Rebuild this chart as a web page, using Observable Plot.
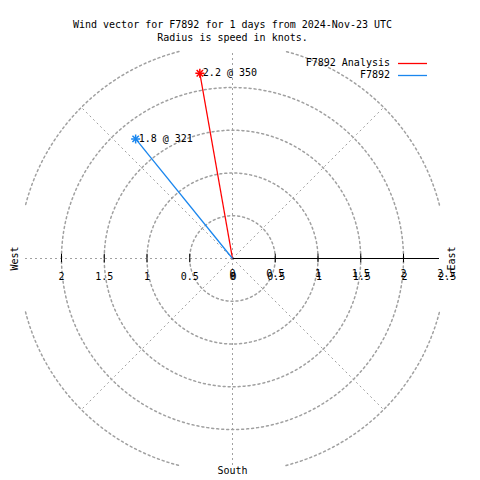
<!DOCTYPE html>
<html><head><meta charset="utf-8">
<script src="https://cdn.jsdelivr.net/npm/d3@7"></script>
<script src="https://cdn.jsdelivr.net/npm/@observablehq/plot@0.6"></script>
<style>
body{margin:0;background:#fff;}
#wrap{position:relative;width:480px;height:480px;font-family:"DejaVu Sans Mono",monospace;font-size:10px;color:#000;}
#wrap svg{position:absolute;left:0;top:0;}
</style></head><body><div id="wrap"></div>
<script>
// ---- data ----
const titleLines = ["Wind vector for F7892 for 1 days from 2024-Nov-23 UTC", "Radius is speed in knots."];
const seriesNames = ["F7892 Analysis", "F7892"];
const seriesColors = ["#ff0000", "#1a86ee"];
const speeds = [2.2, 1.8];
const directions = [350, 321];
const ringRadii = [0.5, 1, 1.5, 2, 2.5];
const westTicks = [0, 0.5, 1, 1.5, 2];
const eastTicks = [0, 0.5, 1, 1.5, 2, 2.5];
const compassNames = ["West", "East", "South"];

// ---- layout ----
const W = 480, H = 480, cx = 232, cy = 258, k = 85.5;
const L = 207 / k; // clip half-size of grid in knots
const grid = "#a0a0a0", dash = "2,3";

const vectors = speeds.map((s, i) => ({
  name: seriesNames[i], color: seriesColors[i], s, d: directions[i],
  x: s * Math.sin(directions[i] * Math.PI / 180),
  y: s * Math.cos(directions[i] * Math.PI / 180),
  label: `${s} @ ${directions[i]}`
}));

const ringPts = [];
for (const r of ringRadii) {
  for (let a = 0; a <= 360; a += 0.5) {
    const x = r * Math.cos(a * Math.PI / 180), y = r * Math.sin(a * Math.PI / 180);
    const inside = Math.abs(x) <= L && Math.abs(y) <= L;
    ringPts.push({r, x, y: inside ? y : NaN});
  }
}
const diag = [45, 135, 225, 315].map(a => ({x: 2.5 * Math.cos(a * Math.PI / 180), y: 2.5 * Math.sin(a * Math.PI / 180)}));
const tickMarks = [...westTicks.filter(v => v > 0).map(v => -v), ...eastTicks.filter(v => v > 0 && v < 2.5)];
const fmt = v => String(v);

const plot = Plot.plot({
  width: W, height: H, margin: 0,
  x: {domain: [-cx / k, (W - cx) / k], axis: null},
  y: {domain: [-(H - cy) / k, cy / k], axis: null},
  style: {fontFamily: '"DejaVu Sans Mono", monospace', fontSize: "10px", background: "white"},
  marks: [
    Plot.line(ringPts, {x: "x", y: "y", z: "r", stroke: grid, strokeDasharray: dash}),
    Plot.link(diag, {x1: 0, y1: 0, x2: "x", y2: "y", stroke: grid, strokeDasharray: dash}),
    Plot.ruleX([0], {y1: -L, y2: L, stroke: grid, strokeDasharray: dash}),
    Plot.ruleY([0], {x1: -L, x2: 0, stroke: grid, strokeDasharray: dash}),
    Plot.ruleY([0], {x1: 0, x2: L, stroke: "black"}),
    Plot.ruleX(tickMarks, {y1: -0.05, y2: 0.05, stroke: "black"}),
    Plot.text(westTicks, {x: d => -d, y: 0, text: fmt, dy: 18, fill: "black"}),
    Plot.text(eastTicks, {x: d => d, y: 0, text: fmt, dy: 15, fill: "black"}),
    Plot.text(eastTicks, {x: d => d, y: 0, text: fmt, dy: 18, dx: 1, fill: "black"}),
    Plot.text([compassNames[0]], {x: -218 / k, y: 0, text: d => d, rotate: -90, fill: "black"}),
    Plot.text([compassNames[1]], {x: 219 / k, y: 0, text: d => d, rotate: -90, fill: "black"}),
    Plot.text([compassNames[2]], {x: 0, y: -212 / k, text: d => d, fill: "black"}),
    Plot.link(vectors, {x1: 0, y1: 0, x2: "x", y2: "y", stroke: "color", strokeWidth: 1.3}),
    Plot.dot(vectors, {x: "x", y: "y", symbol: "plus", r: 3, stroke: "color"}),
    Plot.dot(vectors, {x: "x", y: "y", symbol: "times", r: 3, stroke: "color"}),
    Plot.text(vectors, {x: "x", y: "y", text: "label", textAnchor: "start", dx: 3, fill: "black"}),
    Plot.text([titleLines[0]], {x: 0, frameAnchor: "top", dy: 20, text: d => d, fill: "black"}),
    Plot.text([titleLines[1]], {x: 0, frameAnchor: "top", dy: 33, text: d => d, fill: "black"})
  ]
});
const wrap = document.getElementById("wrap");
wrap.appendChild(plot);

// legend overlay
const leg = d3.create("svg").attr("width", W).attr("height", 90)
  .style("pointer-events", "none").style("overflow", "visible");
const rows = leg.selectAll("g").data(vectors).join("g")
  .attr("transform", (d, i) => `translate(0,${63 + 12 * i})`);
rows.append("text").attr("x", 390).attr("dy", "0.32em").attr("text-anchor", "end")
  .attr("font-family", '"DejaVu Sans Mono", monospace').attr("font-size", 10)
  .attr("fill", "black").text(d => d.name);
rows.append("line").attr("x1", 398).attr("x2", 427).attr("y1", 0.5).attr("y2", 0.5)
  .attr("stroke", d => d.color).attr("stroke-width", 1.3);
wrap.appendChild(leg.node());
</script></body></html>
